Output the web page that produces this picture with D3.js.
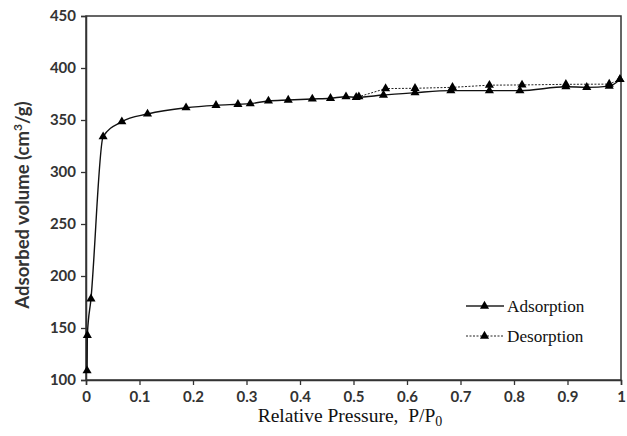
<!DOCTYPE html>
<html lang="en">
<head>
<meta charset="UTF-8">
<script src="https://d3js.org/d3.v7.min.js"></script>
<title>Adsorption isotherm</title>
<style>
  body { margin: 0; background: #fff; }
  .tick text { font-family: Lato, "Open Sans", sans-serif; font-size: 15px; font-weight: 700; fill: #333; }
</style>
</head>
<body>
<svg width="627" height="436"></svg>
<script>
// adsorption branch, P/P0 and volume
var adsP = [0.002, 0.0025, 0.0093, 0.032, 0.067, 0.115, 0.187, 0.243, 0.284, 0.307, 0.341, 0.378, 0.423, 0.457, 0.486, 0.505, 0.556, 0.615, 0.682, 0.754, 0.811, 0.897, 0.936, 0.978, 0.998];
var adsV = [109, 143, 178, 334, 348.4, 355.8, 361.8, 364.1, 365.1, 365.7, 368.3, 369.2, 370.2, 370.9, 372.4, 371.8, 374, 376.3, 378.2, 378.2, 378.2, 382, 381.4, 382.6, 389];
// desorption branch
var desP = [0.998, 0.978, 0.897, 0.815, 0.754, 0.685, 0.615, 0.56, 0.51];
var desV = [389, 384.5, 384.3, 383.7, 383.5, 381.4, 380.5, 380.2, 372.4];
var xTicks = [0, 0.1, 0.2, 0.3, 0.4, 0.5, 0.6, 0.7, 0.8, 0.9, 1];
var yTicks = [100, 150, 200, 250, 300, 350, 400, 450];

var svg = d3.select("svg");
var mLeft = 86, mRight = 621, mTop = 16, mBottom = 380;

var x = d3.scaleLinear().domain([0, 1]).range([mLeft, mRight]);
var y = d3.scaleLinear().domain([100, 450]).range([mBottom, mTop]);

var ads = adsP.map((p, i) => [p, adsV[i]]);
var des = desP.map((p, i) => [p, desV[i]]);

// frame
svg.append("rect")
    .attr("x", mLeft).attr("y", mTop)
    .attr("width", mRight - mLeft).attr("height", mBottom - mTop)
    .attr("fill", "none").attr("stroke", "#333").attr("stroke-width", 1.5);

svg.append("g")
    .attr("transform", "translate(0," + mBottom + ")")
    .call(d3.axisBottom(x).tickValues(xTicks).tickSize(5).tickPadding(6).tickFormat(d3.format("")))
    .call(g => g.select(".domain").attr("stroke", "#333").attr("stroke-width", 1.5))
    .call(g => g.selectAll(".tick line").attr("stroke", "#333").attr("stroke-width", 1.3));

svg.append("g")
    .attr("transform", "translate(" + mLeft + ",0)")
    .call(d3.axisLeft(y).tickValues(yTicks).tickSize(5).tickPadding(5))
    .call(g => g.select(".domain").attr("stroke", "#333").attr("stroke-width", 1.5))
    .call(g => g.selectAll(".tick line").attr("stroke", "#333").attr("stroke-width", 1.3));

var line = d3.line()
    .x(d => x(d[0]))
    .y(d => y(d[1]));

svg.append("path").datum(des)
    .attr("d", line.curve(d3.curveLinear))
    .attr("fill", "none").attr("stroke", "#222").attr("stroke-width", 1)
    .attr("stroke-dasharray", "2,1.5");

svg.append("path").datum(ads)
    .attr("d", line.curve(d3.curveMonotoneX))
    .attr("fill", "none").attr("stroke", "#111").attr("stroke-width", 1.4);

var tri = d3.symbol().type(d3.symbolTriangle).size(36);

svg.append("g").selectAll("path")
    .data(ads.concat(des))
    .enter().append("path")
    .attr("d", tri)
    .attr("transform", d => "translate(" + x(d[0]) + "," + y(d[1]) + ")")
    .attr("fill", "#000");

// legend
var legend = [["Adsorption", null, 306], ["Desorption", "2,1.5", 336]];
legend.forEach(function(l) {
    svg.append("line")
        .attr("x1", 466).attr("x2", 504)
        .attr("y1", l[2]).attr("y2", l[2])
        .attr("stroke", "#222").attr("stroke-width", l[1] ? 1 : 1.4)
        .attr("stroke-dasharray", l[1]);
    svg.append("path").attr("d", tri)
        .attr("transform", "translate(484.5," + l[2] + ")")
        .attr("fill", "#000");
    svg.append("text")
        .attr("x", 507).attr("y", l[2] + 5.5)
        .attr("font-family", "'Liberation Serif', serif").attr("font-size", 17.2)
        .attr("fill", "#111")
        .text(l[0]);
});

// axis titles
var xt = svg.append("text")
    .attr("x", 350).attr("y", 422)
    .attr("text-anchor", "middle")
    .attr("font-family", "'Liberation Serif', serif").attr("font-size", 19.5)
    .attr("fill", "#111");
xt.append("tspan").text("Relative Pressure,\u00a0 P/P");
xt.append("tspan").attr("font-size", 14).attr("dy", 4).text("0");

var yt = svg.append("text")
    .attr("transform", "translate(29,205) rotate(-90)")
    .attr("text-anchor", "middle")
    .attr("font-family", "Lato, 'Open Sans', sans-serif").attr("font-size", 18.5)
    .attr("font-weight", 700)
    .attr("fill", "#333");
yt.append("tspan").text("Adsorbed volume (cm");
yt.append("tspan").attr("font-size", 12).attr("dy", -7).text("3");
yt.append("tspan").attr("dy", 7).text("/g)");
</script>
</body>
</html>
